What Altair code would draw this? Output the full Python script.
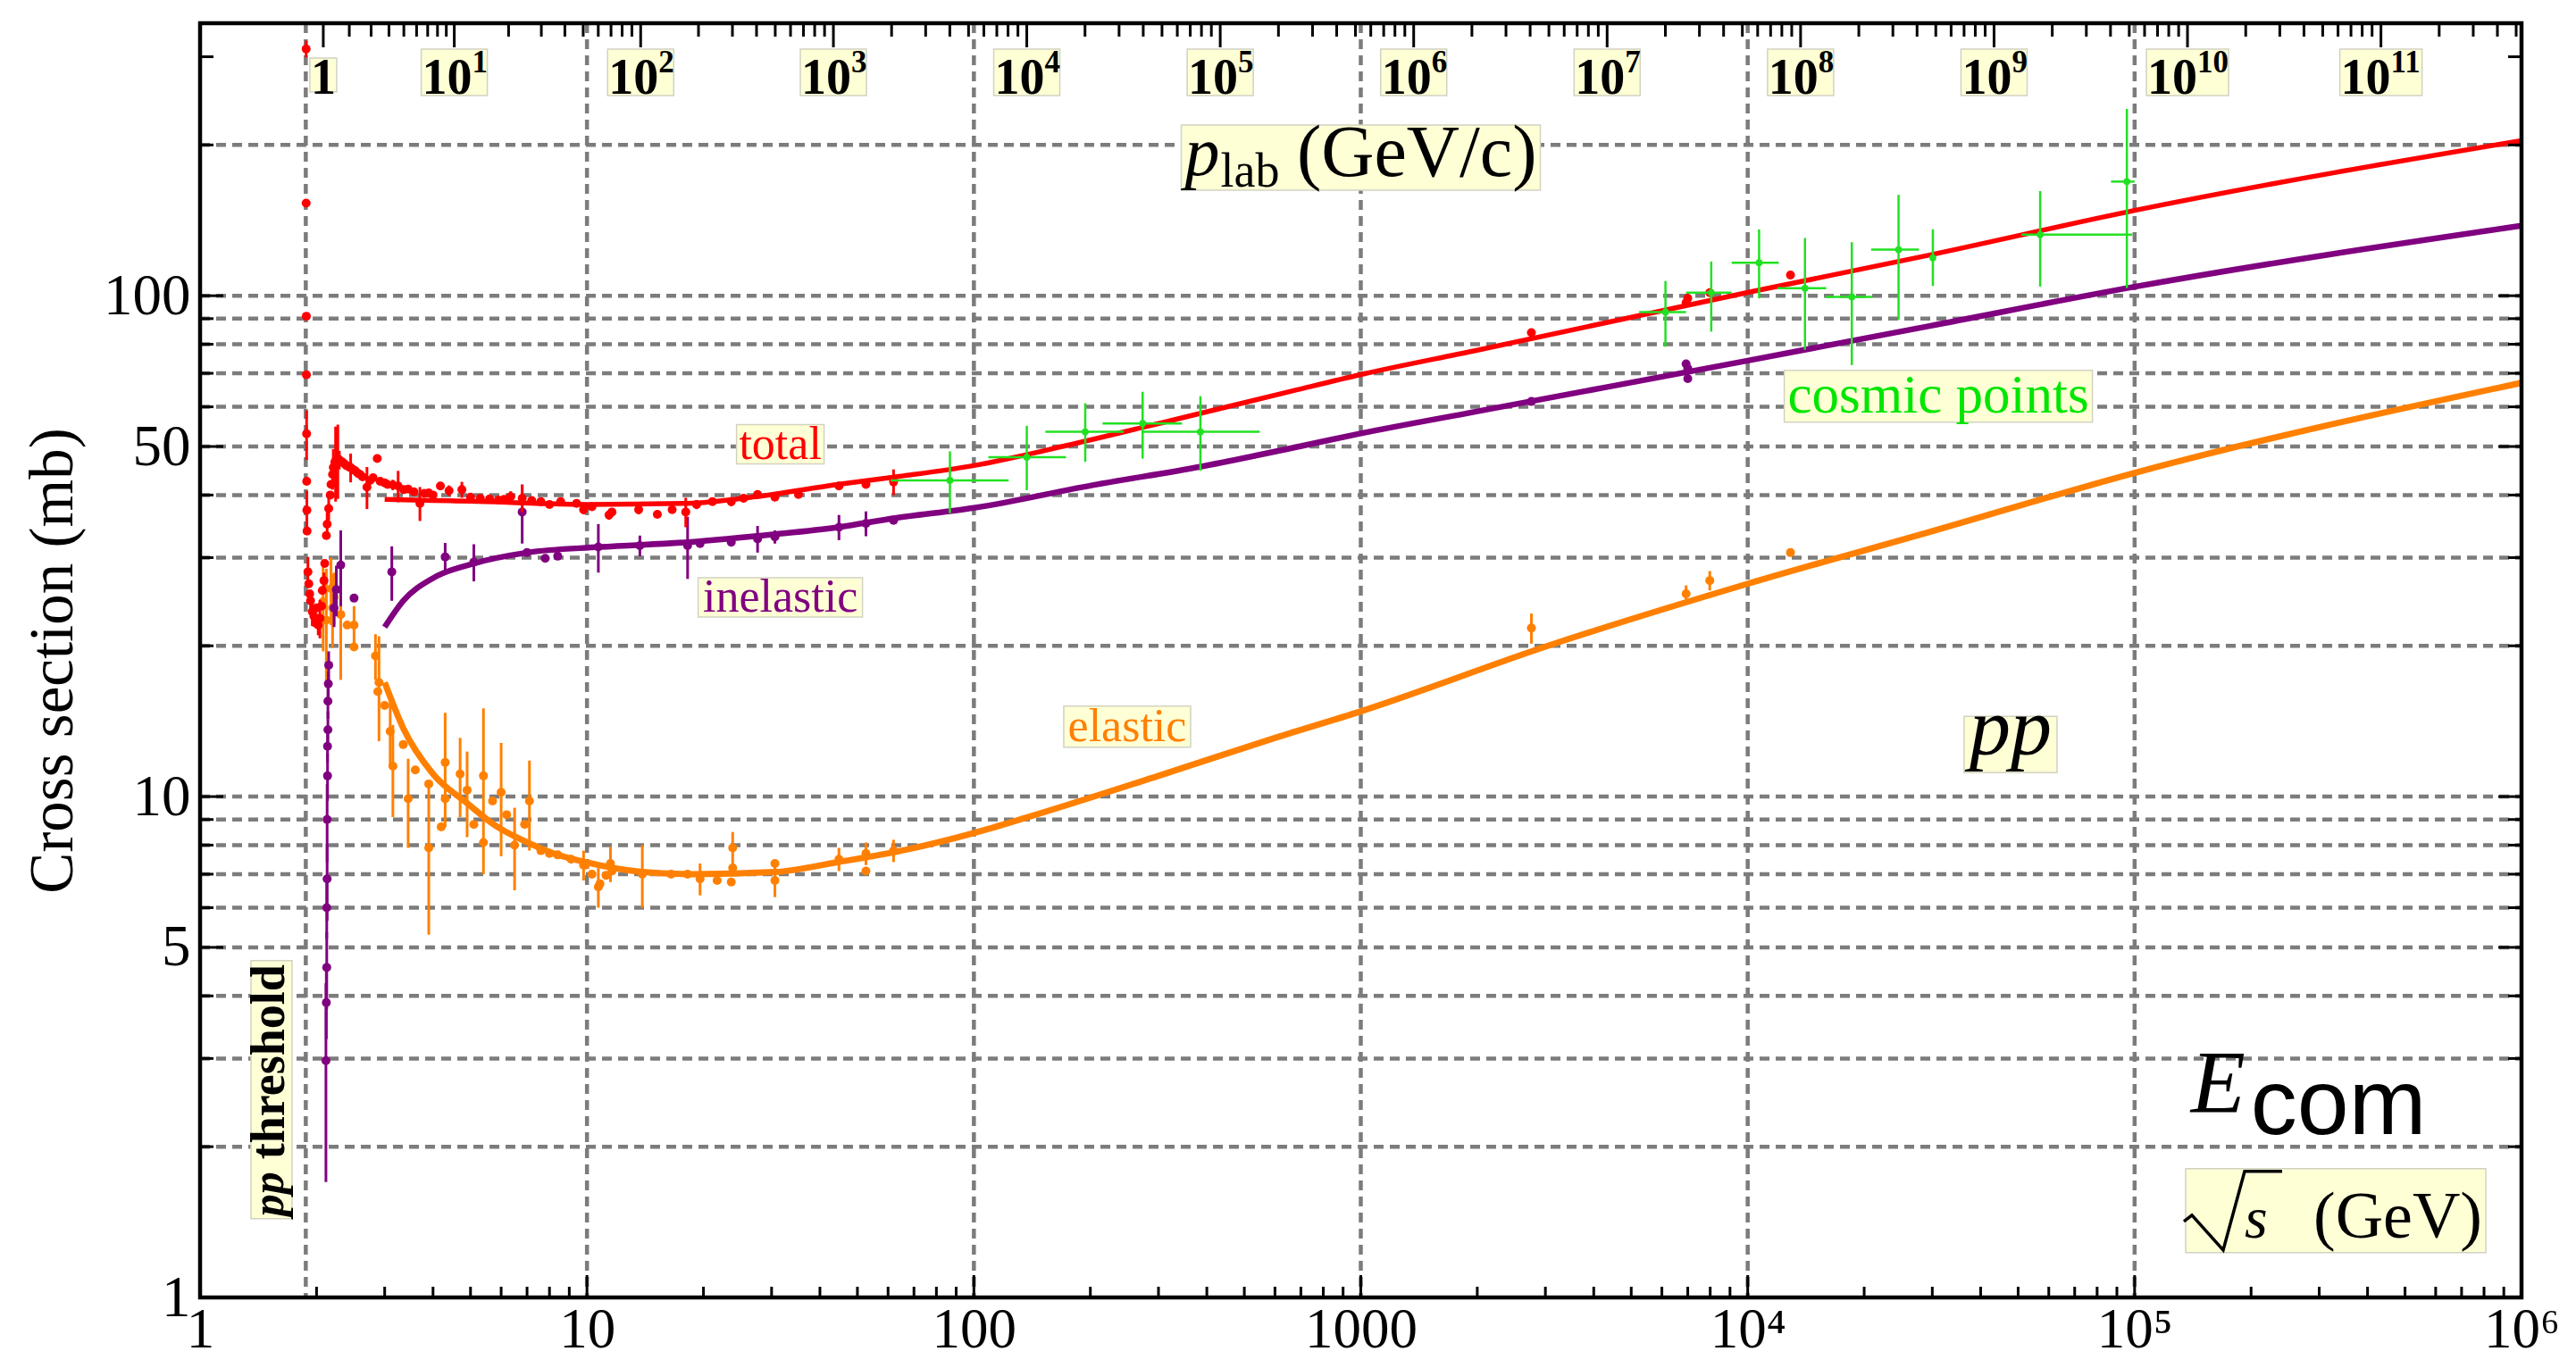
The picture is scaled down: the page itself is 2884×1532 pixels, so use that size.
import altair as alt
import pandas as pd

# ------------------------------------------------------------------ data
# total pp cross section (red): sqrt(s) [GeV], sigma [mb], symmetric error [mb]
tot_x = [1.88, 1.88, 1.882, 1.883, 1.885, 1.886, 1.888, 1.89, 1.90, 1.91, 1.92, 1.93, 1.95, 1.97,
         1.99, 2.00, 2.02, 2.04, 2.06, 2.07, 2.09, 2.10, 2.12, 2.13, 2.15, 2.17, 2.18, 2.20, 2.21,
         2.23, 2.24, 2.27, 2.29, 2.33, 2.36, 2.39, 2.42, 2.45, 2.48, 2.51, 2.55, 2.59, 2.63, 2.70,
         2.75, 2.80, 2.87, 2.92, 3.0, 3.05, 3.15, 3.25, 3.36, 3.45, 3.57, 3.70, 3.8, 3.90, 4.0,
         4.18, 4.4, 4.75, 5.0, 5.3, 5.6, 5.9, 6.1, 6.35, 6.8, 7.2, 7.6, 8.0, 8.55, 9.4, 9.8, 10.3,
         11.4, 11.6, 13.6, 15.2, 16.6, 18.0, 19.2, 21.1, 23.6, 25.4, 27.6, 30.6, 35.2, 44.8, 52.6,
         62.0, 2760, 6930, 7000, 7980, 12900]
tot_y = [311, 153, 91, 69.5, 53, 42.6, 37.3, 33.9, 28.1, 26.6, 25.4, 24.6, 23.4, 22.9,
         22.2, 23.8, 22.0, 22.7, 24.0, 25.8, 27.0, 29.2, 33.2, 35.0, 37.6, 40.0, 42.0, 44.0, 45.4,
         46.5, 46.8, 47.3, 47.0, 46.6, 46.2, 45.8, 45.6, 45.4, 45.0, 44.8, 44.3, 44.0, 43.5, 41.5,
         42.8, 43.3, 47.3, 42.6, 42.3, 42.0, 41.9, 41.7, 41.0, 41.1, 40.6, 38.5, 40.3, 40.4, 40.0,
         41.7, 40.8, 41.0, 39.6, 39.4, 39.3, 39.1, 39.2, 39.7, 39.4, 39.0, 38.8, 38.3, 38.8, 38.5,
         37.4, 37.9, 36.5, 37.0, 37.4, 36.6, 37.4, 37.0, 38.3, 38.8, 38.8, 39.4, 40.1, 39.6, 40.1,
         41.7, 42.0, 42.5, 84.4, 96.8, 98.8, 101.4, 110]
tot_e = [12, 0, 0, 0, 6, 0, 3.5, 0, 2, 0, 0, 1, 1.5, 0,
         0, 0, 1, 2, 0, 0, 1, 0, 0, 2, 2, 0, 0, 3, 4,
         0, 8, 8, 2, 0, 1, 0, 1, 3, 0, 0, 1, 0, 0, 4,
         0, 0, 0, 0, 0, 0, 1, 3, 0, 0, 0, 3, 0, 0, 0,
         0, 1, 1.5, 0, 0, 0, 0, 0, 1, 2.5, 0, 0, 0, 0, 0,
         0.8, 0, 0.8, 0, 0.8, 0, 0, 2.5, 0.8, 0, 0.8, 0, 0.6, 0, 0,
         0.5, 0.5, 2.5, 1.5, 1.5, 1.5, 1.5, 2]

# inelastic (purple)
ine_x = [2.115, 2.12, 2.125, 2.125, 2.13, 2.13, 2.135, 2.135, 2.14, 2.14, 2.145, 2.15, 2.22, 2.25,
         2.31, 2.50, 3.13, 4.3, 5.1, 6.8, 7.0, 7.8, 8.4, 10.7, 13.7, 18.2, 19.6, 23.6, 27.6, 30.6,
         44.8, 52.6, 62.0, 2760, 6930, 7000, 7000]
ine_y = [2.97, 3.88, 4.56, 6.0, 6.85, 9.0, 11.0, 12.6, 13.6, 15.5, 16.8, 18.3, 23.8, 25.9,
         29.0, 24.9, 28.1, 30.1, 29.4, 37.0, 30.7, 29.9, 30.2, 31.5, 31.7, 31.7, 32.0, 32.2, 32.7, 33.0,
         34.5, 35.1, 35.6, 61.5, 73.1, 71.6, 68.3]
ine_e = [1.27, 0.6, 0.8, 0.8, 1.2, 1.6, 1.2, 0.9, 1.2, 1.2, 1.0, 1.2, 2, 3,
         5, 0, 3.5, 2, 2.5, 5, 0, 0, 0, 3.5, 1.5, 4.5, 0, 0, 2, 1,
         2, 2, 0, 0.8, 1, 0, 1]

# elastic (orange)
ela_x = [2.08, 2.12, 2.18, 2.20, 2.22, 2.31, 2.40, 2.50, 2.50, 2.84, 2.88, 2.90, 3.0, 3.1, 3.15,
         3.35, 3.45, 3.6, 3.9, 3.9, 4.2, 4.3, 4.3, 4.7, 4.9, 5.1, 5.4, 5.4, 5.7, 6.0, 6.2, 6.5,
         6.9, 7.1, 7.6, 8.0, 8.4, 9.1, 9.8, 9.9, 10.3, 10.7, 10.8, 11.2, 11.5, 11.6, 13.9, 16.5,
         18.2, 19.6, 21.7, 23.8, 23.8, 23.6, 30.6, 30.6, 44.8, 52.6, 52.6, 62.0,
         2760, 6930, 7980, 12900]
ela_y = [24.5, 22.5, 26.0, 23.8, 25.0, 23.1, 22.0, 22.0, 19.9, 19.1, 16.2, 16.9, 15.2, 13.5, 11.5,
         12.7, 9.9, 11.3, 10.6, 7.9, 8.7, 11.7, 9.9, 11.1, 10.3, 8.8, 11.0, 8.1, 9.8, 10.2, 9.2, 8.0,
         8.8, 9.8, 7.8, 7.7, 7.65, 7.5, 7.3, 7.3, 7.0, 6.6, 6.7, 6.96, 7.35, 7.1, 7.0, 7.0,
         7.0, 6.85, 6.8, 7.9, 7.2, 6.75, 7.35, 6.8, 7.5, 7.7, 7.1, 7.8,
         21.7, 25.4, 27.0, 30.7]
ela_e = [5, 6, 4, 4, 3, 6, 0, 2, 0, 2, 0, 4, 0, 2, 2.4,
         0, 2, 0, 0, 2.6, 0, 3, 0, 2, 2, 0, 4, 0, 0, 2.6, 0, 1.5,
         0, 2, 0, 0, 0, 0, 0.5, 0, 0, 0.6, 0, 0, 0.6, 0, 1, 0,
         0, 0.5, 0, 0.6, 0, 0, 0, 0.5, 0.4, 0.4, 0, 0.4,
         1.5, 1.0, 1.2, 0.3]

# cosmic-ray points (green) with asymmetric bars
cos_x = [86.7, 137, 194, 273, 385, 6130, 8050, 10700, 14060, 18580, 24540, 30100, 57000, 95500]
cos_y = [42.8, 47.6, 53.5, 55.6, 53.5, 92.8, 101.4, 116.4, 103.5, 99.5, 123.6, 119, 132.4, 169]
cos_xlo = [61, 109, 153, 215, 274, 5240, 6930, 9090, 11930, 15880, 20850, 30100, 51000, 86900]
cos_xhi = [123, 173, 244, 345, 548, 6930, 9090, 12030, 15960, 21000, 27700, 30100, 98600, 100000]
cos_ylo = [36.8, 40.9, 46.6, 47.3, 44.7, 79.1, 84.8, 98.8, 78, 72.7, 89.5, 104.6, 104.3, 103.6]
cos_yhi = [48.9, 55, 61, 64.3, 63, 107, 117, 135.6, 130.4, 127.9, 159, 135.7, 161.8, 236]

# fitted curves
fit_tot_x = [3.0, 4.0, 5.0, 7.4, 10, 18.2, 27.3, 44.5, 63, 100, 173, 328, 668, 1000, 1960,
             10000, 29700, 100000, 1000000]
fit_tot_y = [39.2, 39.0, 38.9, 38.5, 38.3, 38.5, 39.7, 42.0, 43.5, 45.8, 50.2, 56.5, 64.6, 69.6,
             77.6, 101.5, 120.7, 148, 204]
fit_ine_x = [3.0, 3.35, 4.0, 5.1, 7.0, 10.8, 18.2, 30.6, 44.5, 63, 100, 204, 387, 668, 1000, 1960,
             10000, 29700, 100000, 1000000]
fit_ine_y = [21.8, 24.6, 27.3, 29.2, 30.7, 31.5, 32.2, 33.4, 34.5, 36.0, 37.7, 41.9, 45.6, 49.7,
             53.1, 58.6, 74.2, 87.1, 104.2, 138]
fit_ela_x = [3.0, 3.35, 4.0, 4.9, 5.8, 6.9, 8.2, 9.9, 13.9, 18.8, 30.6, 44.5, 63, 100, 136, 300,
             600, 1000, 3105, 10000, 29700, 100000, 1000000]
fit_ela_y = [16.9, 13.7, 11.1, 9.7, 8.75, 8.15, 7.7, 7.4, 7.07, 7.0, 7.07, 7.4, 7.76, 8.46, 9.07,
             11.0, 13.1, 14.8, 20.1, 26.6, 33.8, 44.3, 67]

# axes / ticks / grid
threshold = 1.876
xgrid_vals = [threshold, 10, 100, 1000, 10000, 100000]
ygrid_vals = [2, 3, 4, 5, 6, 7, 8, 9, 10, 20, 30, 40, 50, 60, 70, 80, 90, 100, 200]
ylab_vals = [1, 5, 10, 50, 100]
xlab_vals = [1, 10, 100, 1000, 10000, 100000, 1000000]
plab_exp = list(range(12))                      # top labels: p_lab = 10^n GeV/c
plab_minor = [k * 10.0 ** n for n in range(12) for k in range(2, 10)]
x_major_ticks = [10.0 ** n for n in range(7)]
x_minor_ticks = [k * 10.0 ** n for n in range(6) for k in range(2, 10)]
y_major_ticks = [1, 5, 10, 50, 100]
y_minor_ticks = [2, 3, 4, 6, 7, 8, 9, 20, 30, 40, 60, 70, 80, 90, 200, 300]

# annotation anchors (data coordinates)
ann = {
    "total": (31.6, 50.5), "inelastic": (31.6, 25.0), "elastic": (249, 13.8),
    "cosmic": (31100, 63.0), "pp": (47800, 12.7), "plab": (1000, 188.6),
    "sqrts": (331000, 1.49), "ecom": (139800, 2.35), "thr": (1.53, 2.60),
}

# ------------------------------------------------------------------ style
W, H = 2599, 1427
XS = alt.Scale(type="log", domain=[1, 1000000], nice=False)
YS = alt.Scale(type="log", domain=[1, 350], nice=False)
RED, PUR, ORA, GRN = "#FF0000", "#800080", "#FF8000", "#22E022"
BOXF, BOXS = "#FFFFD6", "#D2D2C2"
SERIF, SANS = "Liberation Serif", "Liberation Sans"
GRID = dict(color="#7C7C7C", strokeWidth=4.5, strokeDash=[11, 7])
MPX = "sqrt(2*0.938272*0.938272 + 2*0.938272*sqrt(datum.p*datum.p + 0.938272*0.938272))"

AX = alt.Axis(
    values=xlab_vals, title="",
    labelExpr="datum.value < 5000 ? format(datum.value, 'd') : datum.value < 50000 ? '10⁴' : datum.value < 500000 ? '10⁵' : '10⁶'",
    labelFont=SERIF, labelFontSize=63, labelColor="black", labelPadding=5,
    ticks=False, tickSize=0, domain=False, grid=False, labelFlush=False, labelOverlap=False)
AY = alt.Axis(
    values=ylab_vals, format="d", title="Cross section (mb)", titleFont=SERIF,
    titleFontSize=69, titleFontWeight="normal", titleColor="black", titleX=-165,
    titleY=H / 2, titleAngle=270, titleAlign="center", titleBaseline="middle",
    labelFont=SERIF, labelFontSize=65, labelColor="black", labelPadding=11,
    ticks=False, tickSize=0, domain=False, grid=False, labelFlush=False, labelOverlap=False)


def xe(f):
    return alt.X(f, type="quantitative", scale=XS, axis=AX)


def ye(f):
    return alt.Y(f, type="quantitative", scale=YS, axis=AY)


def one(x, y, t=""):
    return pd.DataFrame({"x": [x], "y": [y], "t": [t]})


def box(key, w, h):
    x, y = ann[key]
    path = f"M{-w/2},{-h/2}H{w/2}V{h/2}H{-w/2}Z"
    return alt.Chart(one(x, y)).mark_point(
        shape=path, size=4, filled=True, fill=BOXF, stroke=BOXS, strokeWidth=1.5, opacity=1
    ).encode(x=xe("x"), y=ye("y"))


def txt(key, text, **kw):
    x, y = ann[key]
    base = dict(font=SERIF, color="black")
    base.update(kw)
    return alt.Chart(one(x, y, text)).mark_text(**base).encode(x=xe("x"), y=ye("y"), text="t:N")


layers = []

# grid
layers.append(alt.Chart(pd.DataFrame({"g": ygrid_vals})).mark_rule(**GRID).encode(
    y=ye("g"), x=alt.value(0), x2=alt.value(W)))
layers.append(alt.Chart(pd.DataFrame({"g": xgrid_vals})).mark_rule(**GRID).encode(
    x=xe("g"), y=alt.value(0), y2=alt.value(H)))

# fits
for fx, fy, col, sw in [(fit_ela_x, fit_ela_y, ORA, 7), (fit_ine_x, fit_ine_y, PUR, 6.5),
                        (fit_tot_x, fit_tot_y, RED, 5.5)]:
    layers.append(alt.Chart(pd.DataFrame({"x": fx, "y": fy})).mark_line(
        color=col, strokeWidth=sw, interpolate="monotone").encode(x=xe("x"), y=ye("y")))

# measured points with error bars
for px, py, pe, col in [(ela_x, ela_y, ela_e, ORA), (ine_x, ine_y, ine_e, PUR), (tot_x, tot_y, tot_e, RED)]:
    d = pd.DataFrame({"x": px, "y": py, "e": pe})
    layers.append(alt.Chart(d).transform_filter("datum.e > 0").transform_calculate(
        lo="datum.y - datum.e", hi="datum.y + datum.e").mark_rule(color=col, strokeWidth=3).encode(
        x=xe("x"), y=ye("lo:Q"), y2="hi:Q"))
    layers.append(alt.Chart(d).mark_circle(color=col, size=100, opacity=1).encode(x=xe("x"), y=ye("y")))

cos = pd.DataFrame({"x": cos_x, "y": cos_y, "xlo": cos_xlo, "xhi": cos_xhi, "ylo": cos_ylo, "yhi": cos_yhi})
layers.append(alt.Chart(cos).mark_rule(color=GRN, strokeWidth=2.5).encode(x=xe("x"), y=ye("ylo"), y2="yhi:Q"))
layers.append(alt.Chart(cos).mark_rule(color=GRN, strokeWidth=2.5).encode(x=xe("xlo"), x2="xhi:Q", y=ye("y")))
layers.append(alt.Chart(cos).mark_circle(color=GRN, size=60, opacity=1).encode(x=xe("x"), y=ye("y")))

# annotation boxes and texts
layers += [
    box("total", 98, 44), txt("total", "total", color=RED, fontSize=52, baseline="middle"),
    box("inelastic", 184, 44), txt("inelastic", "inelastic", color=PUR, fontSize=52, baseline="middle"),
    box("elastic", 142, 46), txt("elastic", "elastic", color=ORA, fontSize=52, baseline="middle"),
    box("cosmic", 345, 58), txt("cosmic", "cosmic points", color="#00E600", fontSize=61, baseline="middle"),
    box("pp", 104, 63), txt("pp", "pp", fontSize=92, fontStyle="italic", baseline="alphabetic", dy=11),
    box("plab", 402, 73),
    txt("plab", "p", fontSize=78, fontStyle="italic", align="left", baseline="alphabetic", dx=-197, dy=19),
    txt("plab", "lab", fontSize=54, align="left", baseline="alphabetic", dx=-157, dy=32),
    txt("plab", "(GeV/c)", fontSize=82, align="right", baseline="alphabetic", dx=197, dy=20),
    box("sqrts", 336, 94),
    txt("sqrts", "s", fontSize=66, fontStyle="italic", align="left", baseline="alphabetic", dx=-102, dy=30),
    txt("sqrts", "(GeV)", fontSize=74, align="right", baseline="alphabetic", dx=164, dy=30),
    txt("ecom", "E", fontSize=100, fontStyle="italic", align="left", baseline="alphabetic"),
    txt("ecom", "com", font=SANS, fontSize=104, align="left", baseline="alphabetic", dx=67, dy=25),
    box("thr", 46, 289),
    txt("thr", "pp", fontSize=50, fontWeight="bold", fontStyle="italic", angle=270, align="left",
        baseline="alphabetic", dx=-142, dy=13),
    txt("thr", "threshold", fontSize=54, fontWeight="bold", angle=270, align="right",
        baseline="alphabetic", dx=140, dy=14),
]
# radical sign of sqrt(s)
sx, sy = ann["sqrts"]
layers.append(alt.Chart(one(sx, sy)).mark_point(
    shape="M-170,12L-161,5L-126,44L-102,-44L-60,-44", size=4, filled=False, stroke="black",
    strokeWidth=3.5, opacity=1).encode(x=xe("x"), y=ye("y")))

# top p_lab axis: boxes, labels (10 + exponent), ticks
top = alt.Chart(pd.DataFrame({"n": plab_exp})).transform_calculate(
    p="pow(10, datum.n)").transform_calculate(rs=MPX, e="'' + datum.n")
layers.append(top.transform_calculate(
    shp="datum.n == 0 ? 'M-15,-16H15V22H-15Z' : datum.n < 10 ? 'M-37,-26H37V26H-37Z' : 'M-46,-26H46V26H-46Z'"
).mark_point(filled=True, fill=BOXF, stroke=BOXS, strokeWidth=1.5, opacity=1).encode(
    x=xe("rs:Q"), y=alt.value(55), shape=alt.Shape("shp:N", scale=None), size=alt.value(4)))
TOPTXT = dict(font=SERIF, fontWeight="bold", baseline="alphabetic", color="black")
layers.append(top.transform_filter("datum.n == 0").mark_text(fontSize=56, align="center", **TOPTXT).encode(
    x=xe("rs:Q"), y=alt.value(79), text=alt.value("1")))
for cond, bdx, edx in [("datum.n > 0 && datum.n < 10", -36, 20), ("datum.n >= 10", -45, 11)]:
    sub = top.transform_filter(cond)
    layers.append(sub.mark_text(fontSize=56, align="left", dx=bdx, **TOPTXT).encode(
        x=xe("rs:Q"), y=alt.value(79), text=alt.value("10")))
    layers.append(sub.mark_text(fontSize=35, align="left", dx=edx, **TOPTXT).encode(
        x=xe("rs:Q"), y=alt.value(55), text="e:N"))
TICK = dict(color="black", strokeWidth=3)
layers.append(top.mark_rule(**TICK).encode(x=xe("rs:Q"), y=alt.value(0), y2=alt.value(27)))
layers.append(alt.Chart(pd.DataFrame({"p": plab_minor})).transform_calculate(rs=MPX).transform_filter(
    "datum.rs <= 1000000").mark_rule(**TICK).encode(x=xe("rs:Q"), y=alt.value(0), y2=alt.value(15)))

# inward ticks on bottom, left, right
layers.append(alt.Chart(pd.DataFrame({"v": x_major_ticks})).mark_rule(**TICK).encode(
    x=xe("v"), y=alt.value(H), y2=alt.value(H - 25)))
layers.append(alt.Chart(pd.DataFrame({"v": x_minor_ticks})).mark_rule(**TICK).encode(
    x=xe("v"), y=alt.value(H), y2=alt.value(H - 12)))
for vals, ln in [(y_major_ticks, 26), (y_minor_ticks, 15)]:
    d = pd.DataFrame({"v": vals})
    layers.append(alt.Chart(d).mark_rule(**TICK).encode(y=ye("v"), x=alt.value(0), x2=alt.value(ln)))
    layers.append(alt.Chart(d).mark_rule(**TICK).encode(y=ye("v"), x=alt.value(W), x2=alt.value(W - ln)))

# frame
layers.append(alt.Chart(pd.DataFrame({"a": [0]})).mark_rect(
    fillOpacity=0, stroke="black", strokeWidth=4.5).encode(
    x=alt.value(0), x2=alt.value(W), y=alt.value(0), y2=alt.value(H)))

chart = alt.layer(*layers).properties(
    width=W, height=H,
    padding={"left": 216, "top": 18, "right": 53, "bottom": 71},
    autosize=alt.AutoSizeParams(type="none"),
).configure_view(strokeWidth=0)

chart.save("out.html", embed_options={"renderer": "svg", "actions": False})
